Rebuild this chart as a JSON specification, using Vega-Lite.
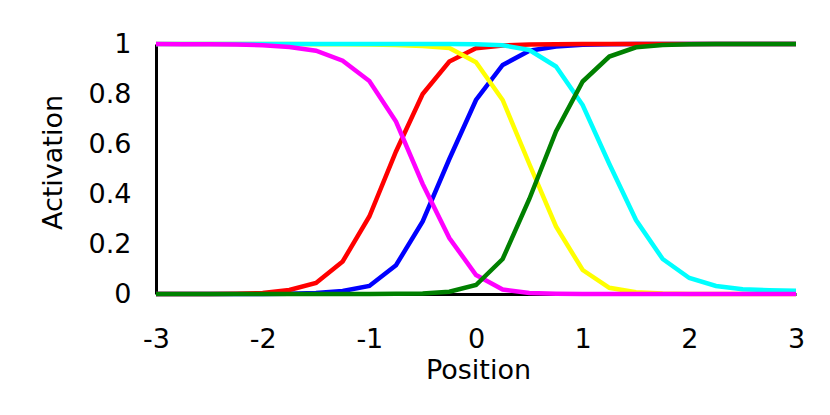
{
  "$schema": "https://vega.github.io/schema/vega-lite/v6.json",
  "width": 640,
  "height": 250,
  "autosize": "none",
  "padding": {"left": 156, "top": 44, "right": 34, "bottom": 121},
  "background": "white",
  "config": {
    "view": {"stroke": null},
    "font": "DejaVu Sans",
    "axis": {
      "grid": false,
      "ticks": false,
      "domainColor": "black",
      "domainWidth": 3,
      "labelColor": "black",
      "titleColor": "black",
      "labelFont": "DejaVu Sans",
      "titleFont": "DejaVu Sans",
      "labelFontSize": 27,
      "titleFontSize": 27,
      "titleFontWeight": "normal",
      "zindex": 1
    }
  },
  "data": {
    "values": [
      {"x": -3, "y": 0, "s": "b"}, {"x": -2.75, "y": 0, "s": "b"}, {"x": -2.5, "y": 0, "s": "b"}, {"x": -2.25, "y": 0, "s": "b"}, {"x": -2, "y": 0, "s": "b"}, {"x": -1.75, "y": 0.001, "s": "b"}, {"x": -1.5, "y": 0.004, "s": "b"}, {"x": -1.25, "y": 0.012, "s": "b"}, {"x": -1, "y": 0.032, "s": "b"}, {"x": -0.75, "y": 0.115, "s": "b"}, {"x": -0.5, "y": 0.29, "s": "b"}, {"x": -0.25, "y": 0.54, "s": "b"}, {"x": 0, "y": 0.776, "s": "b"}, {"x": 0.25, "y": 0.916, "s": "b"}, {"x": 0.5, "y": 0.973, "s": "b"}, {"x": 0.75, "y": 0.99, "s": "b"}, {"x": 1, "y": 0.997, "s": "b"}, {"x": 1.25, "y": 0.999, "s": "b"}, {"x": 1.5, "y": 1, "s": "b"}, {"x": 1.75, "y": 1, "s": "b"}, {"x": 2, "y": 1, "s": "b"}, {"x": 2.25, "y": 1, "s": "b"}, {"x": 2.5, "y": 1, "s": "b"}, {"x": 2.75, "y": 1, "s": "b"}, {"x": 3, "y": 1, "s": "b"},
      {"x": -3, "y": 0, "s": "r"}, {"x": -2.75, "y": 0, "s": "r"}, {"x": -2.5, "y": 0, "s": "r"}, {"x": -2.25, "y": 0.001, "s": "r"}, {"x": -2, "y": 0.004, "s": "r"}, {"x": -1.75, "y": 0.016, "s": "r"}, {"x": -1.5, "y": 0.044, "s": "r"}, {"x": -1.25, "y": 0.13, "s": "r"}, {"x": -1, "y": 0.31, "s": "r"}, {"x": -0.75, "y": 0.57, "s": "r"}, {"x": -0.5, "y": 0.8, "s": "r"}, {"x": -0.25, "y": 0.93, "s": "r"}, {"x": 0, "y": 0.983, "s": "r"}, {"x": 0.25, "y": 0.994, "s": "r"}, {"x": 0.5, "y": 0.998, "s": "r"}, {"x": 0.75, "y": 0.999, "s": "r"}, {"x": 1, "y": 1, "s": "r"}, {"x": 1.25, "y": 1, "s": "r"}, {"x": 1.5, "y": 1, "s": "r"}, {"x": 1.75, "y": 1, "s": "r"}, {"x": 2, "y": 1, "s": "r"}, {"x": 2.25, "y": 1, "s": "r"}, {"x": 2.5, "y": 1, "s": "r"}, {"x": 2.75, "y": 1, "s": "r"}, {"x": 3, "y": 1, "s": "r"},
      {"x": -3, "y": 1, "s": "y"}, {"x": -2.75, "y": 1, "s": "y"}, {"x": -2.5, "y": 1, "s": "y"}, {"x": -2.25, "y": 1, "s": "y"}, {"x": -2, "y": 1, "s": "y"}, {"x": -1.75, "y": 1, "s": "y"}, {"x": -1.5, "y": 0.999, "s": "y"}, {"x": -1.25, "y": 0.999, "s": "y"}, {"x": -1, "y": 0.998, "s": "y"}, {"x": -0.75, "y": 0.996, "s": "y"}, {"x": -0.5, "y": 0.992, "s": "y"}, {"x": -0.25, "y": 0.984, "s": "y"}, {"x": 0, "y": 0.927, "s": "y"}, {"x": 0.25, "y": 0.776, "s": "y"}, {"x": 0.5, "y": 0.52, "s": "y"}, {"x": 0.75, "y": 0.27, "s": "y"}, {"x": 1, "y": 0.096, "s": "y"}, {"x": 1.25, "y": 0.025, "s": "y"}, {"x": 1.5, "y": 0.007, "s": "y"}, {"x": 1.75, "y": 0.002, "s": "y"}, {"x": 2, "y": 0, "s": "y"}, {"x": 2.25, "y": 0, "s": "y"}, {"x": 2.5, "y": 0, "s": "y"}, {"x": 2.75, "y": 0, "s": "y"}, {"x": 3, "y": 0, "s": "y"},
      {"x": -3, "y": 1, "s": "c"}, {"x": -2.75, "y": 1, "s": "c"}, {"x": -2.5, "y": 1, "s": "c"}, {"x": -2.25, "y": 1, "s": "c"}, {"x": -2, "y": 1, "s": "c"}, {"x": -1.75, "y": 1, "s": "c"}, {"x": -1.5, "y": 1, "s": "c"}, {"x": -1.25, "y": 1, "s": "c"}, {"x": -1, "y": 1, "s": "c"}, {"x": -0.75, "y": 1, "s": "c"}, {"x": -0.5, "y": 1, "s": "c"}, {"x": -0.25, "y": 1, "s": "c"}, {"x": 0, "y": 0.999, "s": "c"}, {"x": 0.25, "y": 0.995, "s": "c"}, {"x": 0.5, "y": 0.976, "s": "c"}, {"x": 0.75, "y": 0.91, "s": "c"}, {"x": 1, "y": 0.756, "s": "c"}, {"x": 1.25, "y": 0.52, "s": "c"}, {"x": 1.5, "y": 0.296, "s": "c"}, {"x": 1.75, "y": 0.14, "s": "c"}, {"x": 2, "y": 0.064, "s": "c"}, {"x": 2.25, "y": 0.032, "s": "c"}, {"x": 2.5, "y": 0.019, "s": "c"}, {"x": 2.75, "y": 0.015, "s": "c"}, {"x": 3, "y": 0.013, "s": "c"},
      {"x": -3, "y": 1, "s": "m"}, {"x": -2.75, "y": 0.999, "s": "m"}, {"x": -2.5, "y": 0.999, "s": "m"}, {"x": -2.25, "y": 0.998, "s": "m"}, {"x": -2, "y": 0.995, "s": "m"}, {"x": -1.75, "y": 0.988, "s": "m"}, {"x": -1.5, "y": 0.973, "s": "m"}, {"x": -1.25, "y": 0.933, "s": "m"}, {"x": -1, "y": 0.852, "s": "m"}, {"x": -0.75, "y": 0.69, "s": "m"}, {"x": -0.5, "y": 0.44, "s": "m"}, {"x": -0.25, "y": 0.224, "s": "m"}, {"x": 0, "y": 0.076, "s": "m"}, {"x": 0.25, "y": 0.018, "s": "m"}, {"x": 0.5, "y": 0.004, "s": "m"}, {"x": 0.75, "y": 0.001, "s": "m"}, {"x": 1, "y": 0, "s": "m"}, {"x": 1.25, "y": 0, "s": "m"}, {"x": 1.5, "y": 0, "s": "m"}, {"x": 1.75, "y": 0, "s": "m"}, {"x": 2, "y": 0, "s": "m"}, {"x": 2.25, "y": 0, "s": "m"}, {"x": 2.5, "y": 0, "s": "m"}, {"x": 2.75, "y": 0, "s": "m"}, {"x": 3, "y": 0, "s": "m"},
      {"x": -3, "y": 0, "s": "g"}, {"x": -2.75, "y": 0, "s": "g"}, {"x": -2.5, "y": 0, "s": "g"}, {"x": -2.25, "y": 0, "s": "g"}, {"x": -2, "y": 0, "s": "g"}, {"x": -1.75, "y": 0, "s": "g"}, {"x": -1.5, "y": 0, "s": "g"}, {"x": -1.25, "y": 0, "s": "g"}, {"x": -1, "y": 0, "s": "g"}, {"x": -0.75, "y": 0.001, "s": "g"}, {"x": -0.5, "y": 0.002, "s": "g"}, {"x": -0.25, "y": 0.009, "s": "g"}, {"x": 0, "y": 0.036, "s": "g"}, {"x": 0.25, "y": 0.14, "s": "g"}, {"x": 0.5, "y": 0.38, "s": "g"}, {"x": 0.75, "y": 0.65, "s": "g"}, {"x": 1, "y": 0.85, "s": "g"}, {"x": 1.25, "y": 0.95, "s": "g"}, {"x": 1.5, "y": 0.987, "s": "g"}, {"x": 1.75, "y": 0.996, "s": "g"}, {"x": 2, "y": 0.999, "s": "g"}, {"x": 2.25, "y": 1, "s": "g"}, {"x": 2.5, "y": 1, "s": "g"}, {"x": 2.75, "y": 1, "s": "g"}, {"x": 3, "y": 1, "s": "g"}
    ]
  },
  "mark": {"type": "line", "strokeWidth": 4.5, "clip": false},
  "encoding": {
    "x": {
      "field": "x", "type": "quantitative",
      "scale": {"domain": [-3, 3], "nice": false, "zero": false},
      "axis": {"title": "Position", "values": [-3, -2, -1, 0, 1, 2, 3], "labelExpr": "datum.value + ''", "labelPadding": 32, "titlePadding": 5, "titleX": 322, "labelFlush": false}
    },
    "y": {
      "field": "y", "type": "quantitative",
      "scale": {"domain": [0, 1], "nice": false},
      "axis": {"title": "Activation", "values": [0, 0.2, 0.4, 0.6, 0.8, 1], "labelExpr": "format(datum.value, '.1~f')", "labelPadding": 25, "titlePadding": 21, "titleY": 118}
    },
    "color": {
      "field": "s", "type": "nominal", "legend": null,
      "scale": {"domain": ["b", "r", "y", "c", "m", "g"], "range": ["#0000ff", "#ff0000", "#ffff00", "#00ffff", "#ff00ff", "#008000"]}
    }
  }
}
